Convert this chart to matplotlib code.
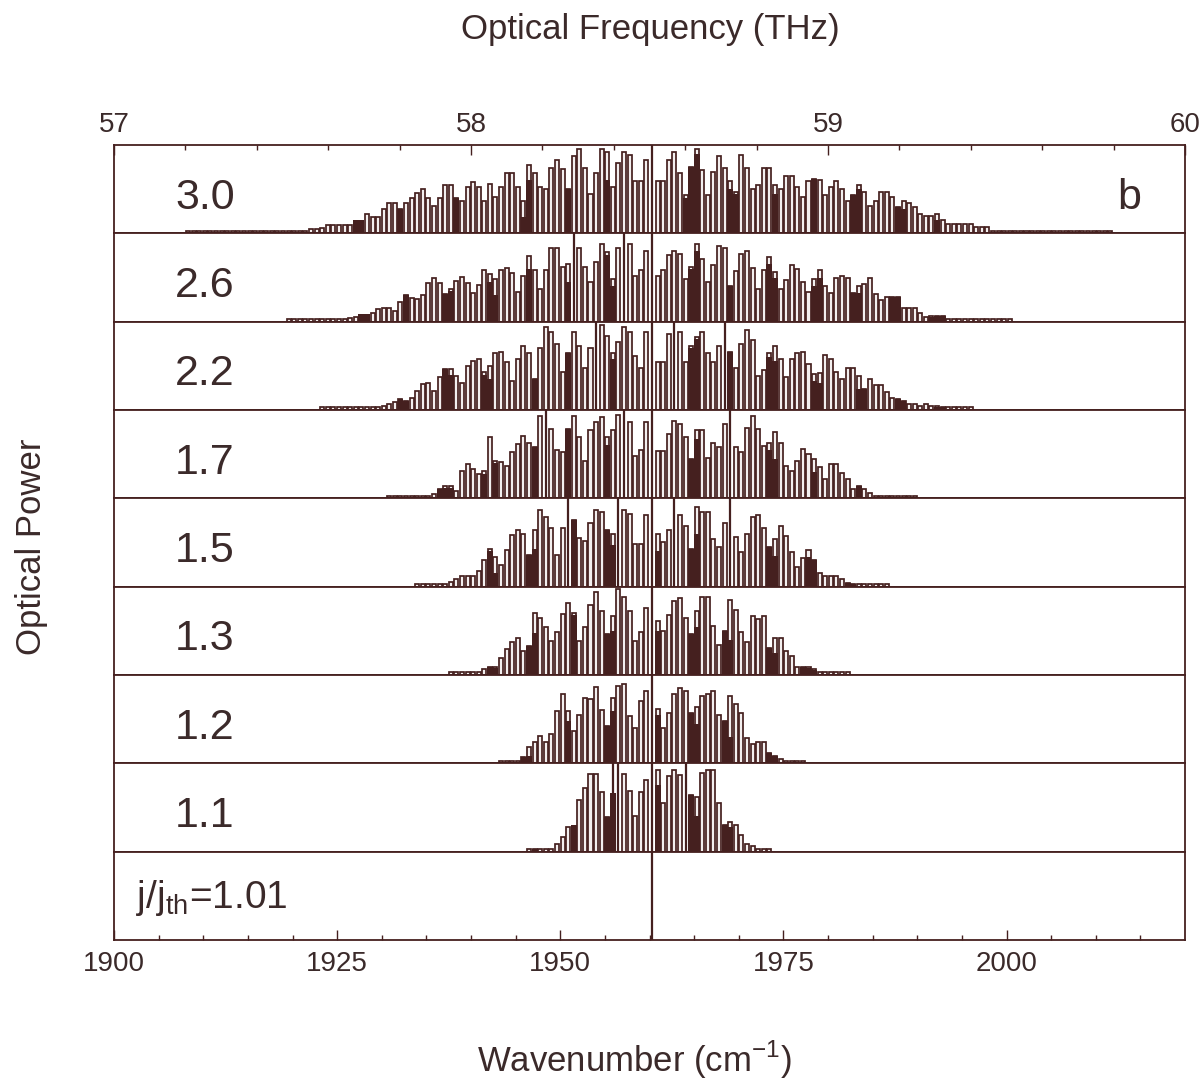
import numpy as np
import matplotlib.pyplot as plt

plt.rcParams['font.family'] = ['Liberation Sans', 'DejaVu Sans']

INK = '#45201f'
TEXT = '#3b2a2a'
LIGHT = '#f3efef'

# mode comb: centre mode and mode spacing in cm^-1
centre_wn = 1960.28
mode_step = 0.6263

# relative heights (% of panel) of each mode, starting at mode index *_start
p30_start = -83
p30 = [3, 3, 3, 3, 3, 3, 3, 3, 3, 3, 3, 3, 3, 3, 3, 3, 3, 3, 3, 3, 3, 3,
       5, 5, 6, 9, 10, 10, 10, 10, 6, 6,
       22, 19, 19, 28, 34, 34, 28, 34, 40, 46, 50, 40, 31, 40, 55, 55, 40, 37, 52, 58, 52, 37,
       56, 41, 53, 68, 68, 53, 37, 77, 68, 53, 50, 74, 83, 73, 50, 87, 95, 74, 44, 68, 95, 92,
       52, 80, 92, 89, 59, 59, 83,
       120, 59, 59, 83, 92, 68, 43, 75, 95, 72, 43, 70, 87, 74, 59, 47, 89, 74, 50, 55, 74, 74,
       55, 50, 65, 65, 52, 41, 59, 62, 60,
       43, 52, 59, 50, 37, 43, 55, 47, 31, 37, 47, 47, 41, 30, 37, 34, 30, 22, 20, 20, 22, 15,
       11, 11, 11, 11, 11, 7, 7, 7,
       3, 3, 3, 3, 3, 3, 3, 3, 3, 3, 3, 3, 3, 3, 3, 3, 3, 3, 3, 3, 3, 3]
p30_dark = {-53: 15, -52: 15, -45: 28, -35: 40, -23: 18, -22: 60, -15: 50, -8: 60,
            6: 40, 7: 75, 8: 90, 14: 50, 15: 45, 22: 45, 29: 62, 36: 43, 37: 50,
            44: 30, 45: 28, 51: 15}

p26_start = -65
p26 = [3, 3, 3, 3, 3, 3, 3, 3, 3, 3, 3,
       4, 5, 8, 6, 10, 14, 15, 15, 12, 22, 30, 27, 26, 30, 44, 49, 44, 31, 37, 46, 51, 44, 33,
       42, 58, 54, 48,
       58, 61, 55, 34, 52, 74, 58, 37, 58, 83, 83, 62, 65, 120, 83, 62, 45, 67, 88, 79, 48, 83,
       120, 88, 52, 58, 80,
       120, 52, 58, 76, 80, 77, 48, 62, 88, 71, 45, 64, 86, 83, 40, 57, 77, 80, 61, 37, 58, 73,
       56, 37, 47, 64, 60, 45, 34, 48, 58,
       40, 33, 50, 52, 49, 33, 40, 43, 49, 31, 24, 28, 28, 28, 15, 15, 15, 10, 5, 6, 6, 6,
       3, 3, 3, 3, 3, 3, 3, 3, 3, 3, 3, 3]
p26_dark = {-52: 9, -51: 9, -44: 30, -37: 31, -36: 35, -29: 45, -28: 30, -22: 60, -15: 45,
            -8: 75, -7: 40, 7: 60, 8: 80, 14: 40, 21: 65, 22: 50, 29: 40, 30: 50, 36: 33,
            37: 33, 43: 28, 44: 28, 50: 5, 51: 6, 52: 6}

p22_start = -59
p22 = [3, 3, 3, 3, 3, 3, 3, 3, 3, 3, 3,
       5, 7, 9, 12, 10, 14, 22, 29, 31, 22, 37, 46, 46, 39, 31, 50, 56, 58, 43, 50,
       65, 66, 54, 33, 58, 73, 65, 35, 70, 94, 88, 75, 43, 64, 88, 73, 48, 70, 120, 96, 84, 64,
       77, 94, 88, 61, 48, 88,
       120, 54, 54, 86, 120, 88, 54, 73, 83, 88, 64, 54, 73, 120, 66, 48, 75, 90, 79, 39, 45,
       64, 73, 58, 37, 58, 64, 66, 52, 41, 42,
       62, 58, 43, 35, 48, 48, 39, 24, 35, 28, 28, 20, 14, 12, 10, 7, 7, 5, 7, 4, 4, 3,
       3, 3, 3, 3, 3]
p22_dark = {-45: 12, -44: 10, -37: 46, -36: 40, -30: 40, -29: 35, -21: 35, -15: 64, -7: 58,
            7: 70, 8: 80, 14: 66, 21: 60, 22: 55, 29: 33, 30: 30, 37: 24, 38: 24, 44: 12,
            45: 10, 51: 3, 52: 3}

p17_start = -47
p17 = [3, 3, 3, 3, 3, 3, 3, 3,
       5, 10, 14, 14, 8, 31, 39, 33, 27, 31,
       69, 42, 41, 37, 52, 61, 71, 63, 58, 93, 120, 78, 55, 53, 78, 93, 69, 42, 77, 86, 92, 69,
       77, 94, 120, 86, 48, 55, 86,
       120, 54, 54, 73, 88, 84, 69, 44, 77, 77, 46, 63, 58, 84, 120, 58, 52, 80, 93, 78, 59, 63,
       75, 63, 37, 31, 42, 56, 50, 45, 35,
       22, 39, 39, 29, 22, 10, 14, 10, 6,
       3, 3, 3, 3, 3, 3, 3, 3]
p17_dark = {-38: 10, -37: 12, -36: 12, -30: 28, -28: 40, -21: 58, -15: 78, -8: 60, 7: 44,
            8: 67, 21: 55, 22: 45, 29: 30, 37: 14}

p15_start = -42
p15 = [3, 3, 3, 3, 3, 3,
       5, 9, 12, 12, 12, 18, 30, 43, 34, 24, 42, 58, 64, 60, 36, 64, 87, 79, 66, 36, 66, 120,
       75, 55, 52, 72, 87, 84, 64, 60, 120, 87, 82, 48, 48, 81,
       120, 60, 51, 64, 120, 81, 69, 43, 90, 84, 84, 54, 45, 72, 120, 56, 39, 60, 79, 81, 66,
       45, 54, 69, 57, 39, 22, 33, 42, 30, 15, 12, 12, 12, 9, 4, 3, 3, 3, 3, 3, 3, 3]
p15_dark = {-29: 40, -28: 15, -22: 36, -21: 43, -14: 75, -8: 64, -7: 47, 1: 40, 7: 43,
            8: 60, 21: 45, 22: 35, 28: 34, 29: 30, 35: 4, 36: 3}

p13_start = -36
p13 = [3, 3, 3, 3, 3, 3,
       7, 9, 9, 19, 30, 37, 42, 27, 33, 70, 64, 54, 39, 49, 69, 82, 70, 39, 54, 79, 94, 72, 46,
       67, 97, 88, 72, 39, 49, 76,
       120, 61, 50, 68, 84, 87, 65, 46, 73, 88, 88, 55, 34, 50, 85, 74, 49, 37, 67, 63, 67, 31,
       42, 42, 27, 22, 9, 9, 9, 7, 3, 3, 3, 3, 3, 3]
p13_dark = {-29: 9, -28: 8, -22: 33, -21: 48, -14: 68, -8: 46, -7: 50, 1: 50, 7: 46, 8: 54,
            13: 50, 14: 40, 21: 31, 22: 25, 27: 9, 28: 8, 29: 6}

p12_start = -27
p12 = [3, 3, 3, 3,
       7, 18, 24, 31, 24, 33, 59, 78, 59, 37, 55, 74, 73, 86, 60, 42, 74, 87, 90, 54, 40, 70, 82,
       120, 61, 40, 57, 79, 85, 82, 57, 64, 76, 79, 82, 55, 48, 76, 67, 57, 29, 22, 24, 24, 12,
       8, 5, 3, 3, 3, 3]
p12_dark = {-23: 7, -22: 8, -15: 48, -8: 42, -7: 59, 1: 55, 7: 57, 8: 45, 13: 48, 14: 30,
            21: 12, 22: 8}

p11_start = -22
p11 = [3, 3, 3, 3, 3,
       9, 17, 28, 24, 58, 72, 88, 88, 68, 39, 120, 120, 88, 69, 40, 68, 81,
       120, 93, 55, 86, 92, 87, 120, 64, 62, 89, 92, 92, 55, 30, 34, 30, 19, 9, 6, 3, 3, 3]
p11_dark = {-21: 3, -14: 30, -8: 39, -7: 66, 1: 75, 7: 64, 8: 40, 13: 30, 14: 28}

p101_start = 0
p101 = [120]
p101_dark = {}

labels = ['3.0', '2.6', '2.2', '1.7', '1.5', '1.3', '1.2', '1.1']

panels = [(p30_start, p30, p30_dark), (p26_start, p26, p26_dark),
          (p22_start, p22, p22_dark), (p17_start, p17, p17_dark),
          (p15_start, p15, p15_dark), (p13_start, p13, p13_dark),
          (p12_start, p12, p12_dark), (p11_start, p11, p11_dark),
          (p101_start, p101, p101_dark)]

fig = plt.figure(figsize=(12.04, 10.85), dpi=100)
x0, x1 = 114 / 1204, 1185 / 1204
y_top, y_bot = 1 - 145 / 1085, 1 - 940 / 1085
ph = (y_top - y_bot) / len(panels)

axes = []
for i, (start, heights, dark) in enumerate(panels):
    ax = fig.add_axes([x0, y_top - (i + 1) * ph, x1 - x0, ph])
    h = np.array(heights, dtype=float)
    x = centre_wn + (start + np.arange(len(h))) * mode_step
    sat = h >= 100
    ax.bar(x[~sat], h[~sat], width=0.72 * mode_step, color=LIGHT, edgecolor=INK,
           linewidth=1.25, zorder=2)
    if dark:
        kd = np.array(list(dark.keys()))
        ax.bar(centre_wn + kd * mode_step, list(dark.values()), width=1.05 * mode_step,
               color=INK, linewidth=0, zorder=3)
    ax.vlines(x[sat], 0, 100, color=INK, lw=1.6, zorder=4)
    ax.set_xlim(1900, 2020)
    ax.set_ylim(0, 100)
    ax.set_yticks([])
    for sp in ax.spines.values():
        sp.set_color(INK)
        sp.set_linewidth(1.3)
        sp.set_zorder(5)
    if i < len(labels):
        ax.text(0.057, 0.28, labels[i], transform=ax.transAxes, fontsize=31,
                color=TEXT, ha='left', va='baseline')
    axes.append(ax)

for ax in axes[:-1]:
    ax.set_xticks([])

axes[0].text(0.959, 0.28, 'b', transform=axes[0].transAxes, fontsize=31,
             color=TEXT, ha='right', va='baseline')
axes[-1].text(0.021, 0.36, r'j/j$_\mathregular{th}$=1.01', transform=axes[-1].transAxes,
              fontsize=28, color=TEXT, ha='left', va='baseline')

# bottom axis: wavenumber
bx = axes[-1]
bx.set_xticks([1900, 1925, 1950, 1975, 2000])
bx.set_xticks(np.arange(1905, 2020, 5), minor=True)
bx.tick_params(axis='x', which='major', direction='in', length=7, width=1.0,
               color=INK, labelcolor=TEXT, labelsize=20, pad=8)
bx.tick_params(axis='x', which='minor', direction='in', length=3.5, width=1.0, color=INK)

# top axis: optical frequency
tx = axes[0].twiny()
tx.set_xlim(57, 60)
tx.set_xticks([57, 58, 59, 60])
tx.set_xticks(np.arange(57.2, 60, 0.2), minor=True)
tx.tick_params(axis='x', which='major', direction='in', length=7, width=1.0,
               color=INK, labelcolor=TEXT, labelsize=20, pad=5)
tx.tick_params(axis='x', which='minor', direction='in', length=3.5, width=1.0, color=INK)
for sp in tx.spines.values():
    sp.set_visible(False)

fig.text(650 / 1204, 1 - 30 / 1085, 'Optical Frequency (THz)', fontsize=25, color=TEXT,
         ha='center', va='center')
fig.text(634 / 1204, 1 - 1060 / 1085, r'Wavenumber (cm$^\mathregular{-1}$)', fontsize=25,
         color=TEXT, ha='center', va='center')
fig.text(32 / 1204, 1 - 547 / 1085, 'Optical Power', fontsize=25, color=TEXT,
         ha='center', va='center', rotation=90)

fig.savefig('out.png', dpi=100)
